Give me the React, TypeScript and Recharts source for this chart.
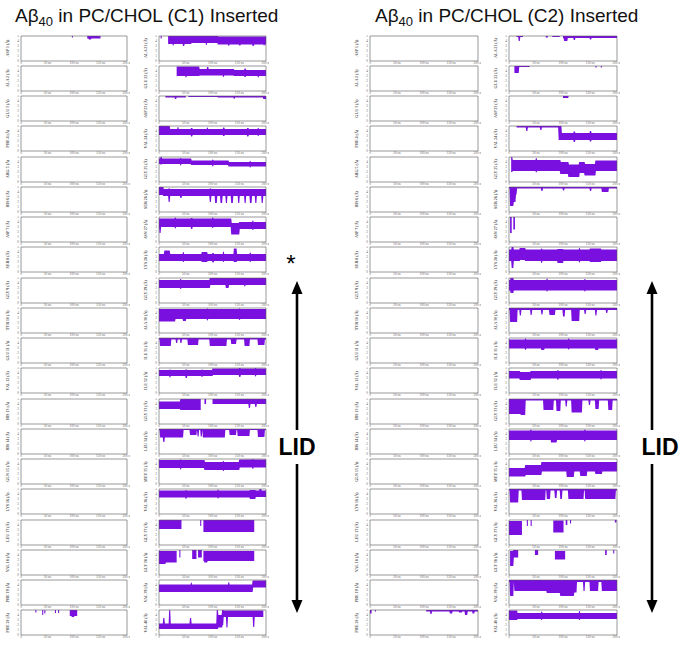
import React from "react";
import { ComposedChart, Area, XAxis, YAxis, ReferenceArea } from "recharts";

type Band = [number, number, number, number]; // [t0 ns, t1 ns, low Å, high Å]

const PURPLE = "#7A10E0";

const RES_FIRST = [
  "ASP 1", "ALA 2", "GLU 3", "PHE 4", "ARG 5", "HIS 6", "ASP 7", "SER 8", "GLY 9", "TYR 10",
  "GLU 11", "VAL 12", "HIS 13", "HIS 14", "GLN 15", "LYS 16", "LEU 17", "VAL 18", "PHE 19", "PHE 20",
];
const RES_SECOND = [
  "ALA 21", "GLU 22", "ASP 23", "VAL 24", "GLY 25", "SER 26", "ASN 27", "LYS 28", "GLY 29", "ALA 30",
  "ILE 31", "ILE 32", "GLY 33", "LEU 34", "MET 35", "VAL 36", "GLY 37", "GLY 38", "VAL 39", "VAL 40",
];

const TIME_TICKS = [0, 50, 100, 150, 200];
const DIST_TICKS = [0, 1, 2, 3, 4, 5];

// C1 system, residues 1-20
const C1_FIRST: Record<string, Band[]> = {
  "ASP 1": [[125, 150, 4.5, 5], [96, 98, 4.7, 5], [128, 132, 4.3, 5]],
  "PHE 20": [[27, 29, 4.5, 5], [40, 42, 4.0, 5], [44, 46, 4.3, 5], [64, 66, 4.4, 5], [70, 72, 4.4, 5], [92, 106, 3.8, 5], [96, 100, 3.6, 5]],
};

// C1 system, residues 21-40
const C1_SECOND: Record<string, Band[]> = {
  "ALA 21": [[3, 5, 4.5, 5], [17, 60, 3.4, 5], [60, 110, 3.6, 5], [110, 200, 3.3, 4.9], [26, 27, 3.1, 5], [45, 47, 3.0, 5], [88, 89, 3.2, 5], [130, 131, 3.0, 4.9], [150, 152, 3.1, 4.9], [175, 177, 3.0, 4.9], [196, 197, 3.1, 4.9]],
  "GLU 22": [[33, 75, 3.0, 4.9], [75, 140, 3.1, 4.4], [140, 200, 3.0, 4.2], [50, 51, 2.7, 4.9], [90, 92, 3.1, 4.8], [120, 121, 2.8, 4.4], [160, 162, 2.8, 4.5], [185, 186, 2.7, 4.2]],
  "ASP 23": [[12, 50, 4.7, 5], [55, 110, 4.8, 5], [110, 200, 4.7, 5], [195, 200, 4.4, 5], [30, 32, 4.4, 5], [140, 141, 4.4, 5]],
  "VAL 24": [[0, 20, 3.2, 5], [20, 200, 3.2, 4.4], [35, 36, 3.2, 4.8], [60, 62, 2.9, 4.6], [90, 91, 3.2, 4.7], [120, 122, 3.0, 4.7], [165, 167, 2.9, 4.6], [185, 186, 3.0, 4.6]],
  "GLY 25": [[0, 60, 3.6, 4.7], [60, 130, 3.4, 4.3], [130, 200, 3.1, 4.0], [3, 5, 3.5, 5], [40, 41, 3.3, 4.8], [100, 101, 3.1, 4.5], [170, 171, 2.9, 4.2]],
  "SER 26": [[0, 8, 3.4, 5], [8, 200, 3.2, 4.6], [18, 20, 2.0, 4.7], [40, 42, 2.8, 4.6], [95, 97, 2.0, 4.7], [105, 108, 1.8, 4.5], [115, 118, 1.8, 4.5], [125, 127, 1.8, 4.5], [135, 138, 1.8, 4.5], [148, 150, 1.8, 4.5], [160, 162, 1.8, 4.5], [170, 173, 1.8, 4.5], [180, 182, 1.8, 4.5], [192, 194, 1.8, 4.5]],
  "ASN 27": [[0, 135, 3.0, 4.7], [135, 150, 1.5, 3.8], [150, 200, 2.6, 4.0], [1, 3, 1.8, 4.7], [30, 31, 2.7, 4.9], [60, 62, 2.6, 4.8], [100, 101, 2.8, 4.9], [175, 176, 2.4, 4.3]],
  "LYS 28": [[0, 200, 2.2, 3.6], [10, 20, 2.2, 4.3], [45, 46, 2.0, 4.0], [80, 90, 2.0, 4.0], [100, 102, 1.9, 3.8], [120, 121, 2.0, 4.1], [140, 145, 2.0, 4.7], [170, 171, 2.0, 3.9]],
  "GLY 29": [[0, 95, 3.0, 4.6], [95, 200, 3.6, 5.0], [40, 41, 2.8, 4.8], [125, 130, 3.0, 5], [160, 161, 3.3, 5]],
  "ALA 30": [[0, 30, 2.3, 4.8], [30, 200, 2.8, 4.8], [45, 50, 2.4, 4.8], [90, 91, 2.5, 4.9], [150, 151, 2.6, 4.9]],
  "ILE 31": [[0, 200, 4.7, 5], [2, 22, 3.4, 5], [32, 34, 4.0, 5], [40, 42, 4.0, 5], [54, 73, 3.6, 5], [95, 126, 3.4, 5], [135, 144, 3.8, 5], [160, 169, 3.4, 5], [185, 197, 3.6, 5]],
  "ILE 32": [[0, 100, 3.4, 4.6], [100, 200, 3.6, 4.9], [20, 21, 3.1, 4.7], [50, 52, 3.0, 4.7], [80, 81, 3.2, 4.7], [150, 152, 3.2, 5], [180, 181, 3.3, 5]],
  "GLY 33": [[0, 40, 3.0, 4.5], [40, 78, 2.8, 5], [85, 88, 4.0, 5], [100, 200, 4.0, 5], [168, 170, 3.2, 5], [180, 182, 3.4, 5]],
  "LEU 34": [[0, 200, 4.8, 5.0], [2, 45, 3.3, 5], [8, 10, 2.4, 5], [58, 70, 3.8, 5], [82, 123, 3.3, 5], [132, 144, 3.8, 5], [147, 169, 3.6, 5], [185, 197, 3.4, 5], [72, 74, 3.5, 5], [78, 80, 3.5, 5]],
  "MET 35": [[0, 85, 3.2, 4.8], [85, 150, 2.8, 4.4], [150, 200, 3.3, 4.9], [40, 41, 2.9, 4.9], [120, 121, 2.6, 4.6], [175, 176, 3.0, 5]],
  "VAL 36": [[0, 170, 3.3, 4.7], [170, 180, 3.0, 4.8], [180, 200, 3.4, 4.7], [188, 191, 4.0, 5], [50, 51, 3.0, 4.8], [110, 111, 3.1, 4.9]],
  "GLY 37": [[0, 42, 3.2, 5], [77, 79, 3.8, 5], [83, 178, 2.6, 5]],
  "GLY 38": [[0, 12, 2.2, 4.8], [12, 33, 2.5, 4.8], [38, 40, 3.5, 5], [62, 70, 3.2, 5], [73, 80, 3.5, 5], [83, 178, 2.8, 4.8], [85, 90, 2.5, 4.8]],
  "VAL 39": [[0, 175, 2.6, 4.1], [175, 200, 3.5, 4.9], [60, 61, 2.6, 4.5], [130, 131, 2.6, 4.6]],
  "VAL 40": [[0, 110, 1.2, 2.3], [8, 10, 1.2, 3.4], [19, 21, 1.2, 5], [58, 60, 1.2, 3.4], [108, 110, 1.2, 5], [110, 118, 1.5, 4.0], [118, 120, 2.0, 5], [120, 195, 3.6, 4.9], [126, 128, 1.5, 4.9], [176, 178, 1.6, 4.9]],
};

// C2 system, residues 1-20
const C2_FIRST: Record<string, Band[]> = {
  "PHE 20": [[0, 3, 4.3, 5], [9, 11, 4.7, 5], [104, 200, 4.7, 5], [112, 114, 4.2, 5], [148, 152, 4.3, 5], [165, 170, 4.5, 5], [176, 180, 4.0, 5], [190, 193, 4.3, 5]],
};

// C2 system, residues 21-40
const C2_SECOND: Record<string, Band[]> = {
  "ALA 21": [[14, 26, 4.8, 5], [18, 20, 4.0, 5], [68, 72, 4.7, 5], [80, 94, 4.8, 5], [100, 200, 4.6, 5], [102, 108, 4.0, 5], [120, 122, 4.2, 5], [150, 152, 4.3, 5]],
  "GLU 22": [[10, 18, 3.6, 5], [18, 38, 4.8, 5], [160, 162, 4.7, 5], [170, 172, 4.7, 5]],
  "ASP 23": [[100, 110, 4.6, 5]],
  "VAL 24": [[14, 92, 4.7, 5], [32, 34, 4.0, 5], [58, 60, 4.2, 5], [92, 97, 2.2, 5], [97, 200, 2.2, 3.6], [120, 122, 1.8, 3.9], [150, 152, 1.9, 4.0]],
  "GLY 25": [[4, 95, 2.2, 4.4], [95, 110, 1.6, 4.0], [110, 130, 1.0, 3.5], [130, 140, 1.8, 4.0], [140, 160, 1.3, 3.6], [160, 200, 2.2, 4.3], [4, 6, 2.0, 5], [50, 51, 1.9, 4.8]],
  "SER 26": [[0, 200, 4.7, 5], [2, 8, 1.2, 5], [8, 12, 2.0, 5], [12, 14, 3.5, 5], [60, 62, 4.2, 5], [100, 102, 4.3, 5], [150, 152, 4.2, 5], [172, 184, 4.0, 5]],
  "ASN 27": [[2, 5, 1.8, 5], [8, 11, 2.5, 5]],
  "LYS 28": [[0, 20, 2.2, 4.5], [20, 30, 2.4, 4.8], [30, 90, 2.2, 4.5], [90, 100, 1.8, 4.6], [100, 150, 2.2, 4.5], [150, 170, 2.0, 4.7], [170, 200, 2.2, 4.5], [5, 8, 0.8, 5], [60, 61, 1.8, 4.7], [130, 131, 1.9, 4.8]],
  "GLY 29": [[0, 200, 2.5, 4.6], [3, 8, 2.0, 5], [70, 71, 2.3, 4.9], [140, 141, 2.3, 4.8]],
  "ALA 30": [[0, 200, 4.6, 5.0], [2, 15, 2.2, 4.6], [20, 22, 3.5, 5], [40, 42, 3.6, 5], [60, 62, 3.7, 5], [75, 85, 3.6, 5], [100, 103, 3.3, 5], [116, 130, 2.4, 5], [140, 142, 3.8, 5], [160, 162, 3.5, 5], [180, 182, 4.0, 5]],
  "ILE 31": [[0, 200, 2.9, 4.7], [30, 31, 2.6, 4.9], [60, 65, 2.6, 4.7], [110, 111, 2.7, 4.9], [160, 165, 2.6, 4.7]],
  "ILE 32": [[0, 20, 2.9, 4.4], [20, 40, 2.6, 4.2], [40, 200, 2.9, 4.4], [90, 91, 2.6, 4.6], [170, 171, 2.7, 4.6]],
  "GLY 33": [[0, 200, 4.7, 5], [0, 30, 2.0, 4.8], [22, 30, 1.8, 4.5], [64, 82, 2.8, 5], [88, 95, 2.6, 5], [105, 107, 3.5, 5], [116, 135, 2.3, 5], [148, 150, 3.8, 5], [160, 166, 3.0, 5], [184, 191, 2.8, 5]],
  "LEU 34": [[0, 200, 2.8, 4.7], [78, 88, 2.3, 4.5], [40, 41, 2.5, 4.9], [140, 141, 2.5, 4.9]],
  "MET 35": [[0, 30, 1.5, 3.2], [30, 60, 1.8, 3.8], [60, 200, 2.5, 4.4], [107, 120, 1.4, 4.4], [132, 144, 1.6, 4.4], [160, 172, 2.0, 4.4]],
  "VAL 36": [[0, 200, 4.7, 5], [2, 17, 2.3, 4.7], [24, 67, 2.8, 5], [70, 76, 3.0, 5], [85, 88, 3.2, 5], [95, 98, 3.0, 5], [110, 138, 3.0, 5], [141, 197, 3.0, 5]],
  "GLY 37": [[0, 24, 2.0, 4.8], [33, 35, 3.8, 5], [40, 42, 3.8, 5], [82, 101, 2.5, 4.9], [105, 108, 4.0, 5], [113, 115, 4.3, 5], [196, 199, 4.5, 5]],
  "GLY 38": [[2, 8, 1.8, 4.8], [8, 17, 3.5, 5], [48, 54, 4.0, 5], [85, 104, 3.1, 4.8], [178, 181, 4.0, 5], [193, 195, 4.3, 5]],
  "VAL 39": [[0, 200, 4.6, 5.0], [2, 8, 1.8, 4.8], [10, 70, 2.8, 4.6], [70, 95, 2.4, 4.6], [95, 120, 1.8, 4.2], [120, 125, 2.5, 4.6], [138, 140, 2.8, 5], [150, 165, 2.8, 4.6], [172, 200, 2.8, 4.6]],
  "VAL 40": [[0, 15, 3.0, 4.9], [15, 200, 3.2, 4.4], [60, 61, 3.0, 4.7], [130, 131, 3.0, 4.8]],
};

// layout: plot-area left edge and width per column
const COLUMNS = [
  { left: 21, width: 106, names: RES_FIRST, bands: C1_FIRST },
  { left: 159, width: 107, names: RES_SECOND, bands: C1_SECOND },
  { left: 370, width: 108, names: RES_FIRST, bands: C2_FIRST },
  { left: 509, width: 108, names: RES_SECOND, bands: C2_SECOND },
];
const ROW_TOP = 35.5;
const ROW_STEP = 30.26;
const PLOT_H = 25;
const AXIS_W = 18;

function buildRows(bands: Band[]) {
  const rows: { t: number; v: [number, number] | null }[] = [];
  for (let t = 0; t <= 200; t++) {
    let lo = Infinity;
    let hi = -Infinity;
    for (const [t0, t1, l, h] of bands) {
      if (t >= t0 && t <= t1) {
        lo = Math.min(lo, l);
        hi = Math.max(hi, h);
      }
    }
    rows.push({ t, v: hi > -Infinity ? [lo, hi] : null });
  }
  return rows;
}

const tickStyle = { fontSize: 3.4, fill: "#666", fontFamily: "Liberation Serif, serif" };

function Panel({ bands, left, top, width }: { bands: Band[]; left: number; top: number; width: number }) {
  const data = buildRows(bands);
  return (
    <div style={{ position: "absolute", left: left - AXIS_W, top: top - 1 }}>
      <ComposedChart width={width + AXIS_W + 3} height={PLOT_H + 8} data={data} margin={{ top: 1, right: 3, bottom: 0, left: 0 }}>
        <XAxis
          dataKey="t"
          type="number"
          domain={[0, 200]}
          allowDataOverflow
          ticks={TIME_TICKS}
          interval={0}
          height={7}
          tickSize={1}
          tickMargin={0}
          axisLine={false}
          tickLine={false}
          tick={tickStyle}
          tickFormatter={(v) => (v === 0 ? "0" : `${v} ns`)}
        />
        <YAxis
          type="number"
          domain={[0, 5]}
          allowDataOverflow
          ticks={DIST_TICKS}
          interval={0}
          width={AXIS_W}
          tickSize={1}
          tickMargin={1}
          axisLine={false}
          tickLine={false}
          tick={tickStyle}
        />
        <Area
          dataKey="v"
          type="linear"
          stroke="none"
          fill={PURPLE}
          fillOpacity={1}
          dot={false}
          activeDot={false}
          connectNulls={false}
          isAnimationActive={false}
        />
        <ReferenceArea x1={0} x2={200} y1={0} y2={5} fill="none" stroke="#555" strokeWidth={0.6} ifOverflow="visible" />
      </ComposedChart>
    </div>
  );
}

function Arrow({ x, labelX }: { x: number; labelX: number }) {
  return (
    <g>
      <line x1={x} y1={292} x2={x} y2={430} stroke="#000" strokeWidth={2.6} />
      <line x1={x} y1={464} x2={x} y2={602} stroke="#000" strokeWidth={2.6} />
      <polygon points={`${x},281 ${x - 5.5},294 ${x + 5.5},294`} fill="#000" />
      <polygon points={`${x},613 ${x - 5.5},600 ${x + 5.5},600`} fill="#000" />
      <text x={labelX} y={455} textAnchor="middle" fontSize={23} fontWeight="bold" fontFamily="Liberation Sans, Arial, sans-serif">
        LID
      </text>
    </g>
  );
}

const titleStyle: React.CSSProperties = {
  position: "absolute",
  top: 5,
  fontFamily: "Liberation Sans, Arial, sans-serif",
  fontSize: 19,
  whiteSpace: "nowrap",
  color: "#111",
};

export default function App() {
  return (
    <div style={{ position: "absolute", left: 0, top: 0, width: 695, height: 649, background: "#fff", overflow: "hidden" }}>
      <div style={{ ...titleStyle, left: 15 }}>
        Aβ<span style={{ fontSize: 13, verticalAlign: -4, lineHeight: 0 }}>40</span> in PC/CHOL (C1) Inserted
      </div>
      <div style={{ ...titleStyle, left: 375 }}>
        Aβ<span style={{ fontSize: 13, verticalAlign: -4, lineHeight: 0 }}>40</span> in PC/CHOL (C2) Inserted
      </div>
      {COLUMNS.map((col, ci) =>
        col.names.map((name, ri) => (
          <Panel
            key={`${ci}-${name}`}
            bands={col.bands[name] ?? []}
            left={col.left}
            top={ROW_TOP + ri * ROW_STEP}
            width={col.width}
          />
        ))
      )}
      <svg width={695} height={649} style={{ position: "absolute", left: 0, top: 0, pointerEvents: "none" }}>
        {COLUMNS.map((col, ci) =>
          col.names.map((name, ri) => {
            const cx = col.left - 13;
            const cy = ROW_TOP + ri * ROW_STEP + PLOT_H / 2;
            return (
              <text
                key={`l-${ci}-${name}`}
                x={cx}
                y={cy}
                transform={`rotate(-90 ${cx} ${cy})`}
                textAnchor="middle"
                dominantBaseline="middle"
                fontSize={4}
                fontWeight="bold"
                fill="#555"
                fontFamily="Liberation Serif, serif"
              >
                {`${name} (Å)`}
              </text>
            );
          })
        )}
        <Arrow x={297} labelX={297} />
        <Arrow x={652} labelX={660} />
        <text x={291} y={272} textAnchor="middle" fontSize={24} fontFamily="Liberation Sans, Arial, sans-serif">
          *
        </text>
      </svg>
    </div>
  );
}
